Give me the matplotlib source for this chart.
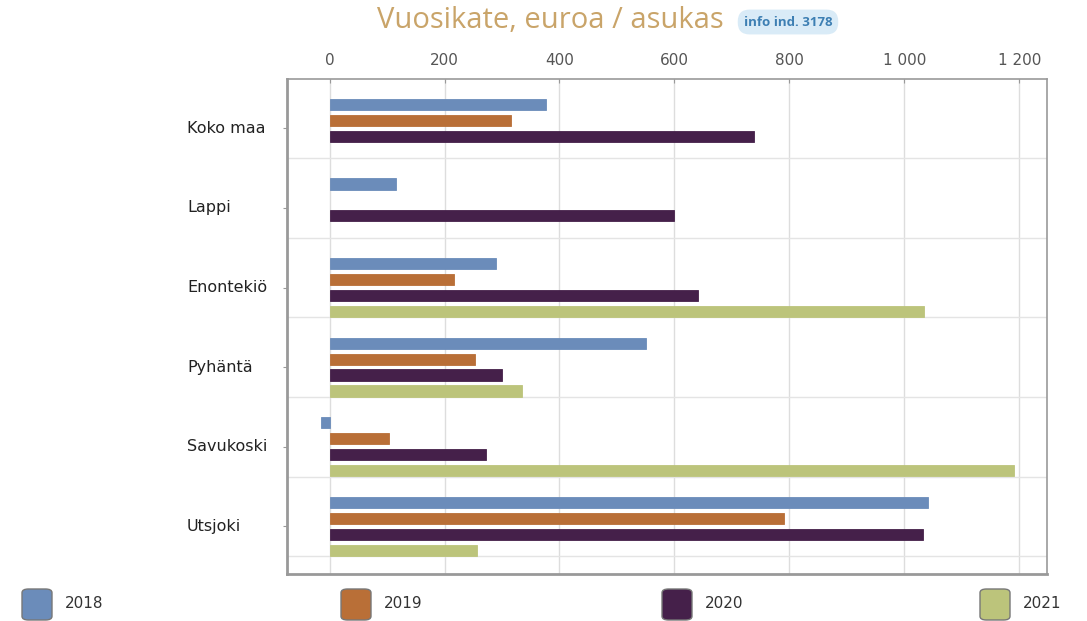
import matplotlib.pyplot as plt
from matplotlib.patches import FancyBboxPatch
from matplotlib.ticker import FuncFormatter
import numpy as np

areas = ["Koko maa", "Lappi", "Enontekiö", "Pyhäntä", "Savukoski", "Utsjoki"]
years = ["2018", "2019", "2020", "2021"]
colors = ["#6b8cba", "#b96f37", "#45204a", "#bcc47b"]

# euroa / asukas, None = no value
v2018 = [377, 115, 290, 550, -15, 1041]
v2019 = [316, None, 216, 253, 104, 790]
v2020 = [739, 599, 641, 300, 273, 1032]
v2021 = [None, None, 1034, 335, 1190, 256]
series = [v2018, v2019, v2020, v2021]

W, H = 1087, 621
fig = plt.figure(figsize=(W / 100, H / 100), dpi=100)
ax = fig.add_axes([287 / W, 1 - 574 / H, (1047 - 287) / W, (574 - 79) / H])

offsets = [-0.30, -0.10, 0.10, 0.30]
ypos = np.arange(len(areas))
for vals, col, off in zip(series, colors, offsets):
    for y, v in zip(ypos, vals):
        if v is None:
            continue
        ax.barh(y + off, v, height=0.14, color=col, edgecolor=col,
                linewidth=0.6, zorder=3)

ax.set_xlim(-74, 1248)
ax.set_ylim(5.6, -0.62)

# grid
for x in range(0, 1201, 200):
    ax.axvline(x, color="#dddddd", lw=1, zorder=1)
for y in ypos:
    ax.axhline(y + 0.375, color="#e4e4e4", lw=1, zorder=1)

ax.xaxis.tick_top()
ax.set_xticks(range(0, 1201, 200))
ax.xaxis.set_major_formatter(FuncFormatter(lambda v, p: f"{int(v):,}".replace(",", " ")))
ax.tick_params(axis="x", direction="in", length=3, color="#999999",
               labelsize=11, labelcolor="#555555", pad=8)
ax.set_yticks(ypos)
ax.set_yticklabels([])
ax.tick_params(axis="y", direction="out", length=3, color="#999999")

for s in ["top", "right"]:
    ax.spines[s].set_color("#999999")
    ax.spines[s].set_linewidth(1.2)
for s in ["left", "bottom"]:
    ax.spines[s].set_color("#999999")
    ax.spines[s].set_linewidth(2)

# category labels, left aligned at a fixed x
for y, name in zip(ypos, areas):
    ypix = ax.transData.transform((0, y))[1]
    fig.text(187 / W, ypix / H, name, ha="left", va="center",
             fontsize=11.5, color="#222222")

# title and info badge
fig.text(550 / W, 1 - 20 / H, "Vuosikate, euroa / asukas", ha="center",
         va="center", fontsize=21, color="#c9a469", family="Open Sans")
fig.text(788 / W, 1 - 22 / H, "info ind. 3178", ha="center", va="center",
         fontsize=9.5, color="#3d7fb3", family="Open Sans", weight="bold",
         bbox=dict(boxstyle="round,pad=0.45,rounding_size=0.9",
                   fc="#d9ebf7", ec="none"))

# legend
box_x = [22, 341, 662, 980]
for bx, col, yr in zip(box_x, colors, years):
    fig.patches.append(FancyBboxPatch(
        (bx / W, 1 - 620 / H), 30 / W, 31 / H,
        boxstyle="round,pad=0,rounding_size=0.006",
        fc=col, ec="#777777", lw=1, transform=fig.transFigure, figure=fig))
    fig.text((bx + 43) / W, 1 - 604 / H, yr, ha="left", va="center",
             fontsize=11, color="#333333")

fig.savefig("out.png", dpi=100)
